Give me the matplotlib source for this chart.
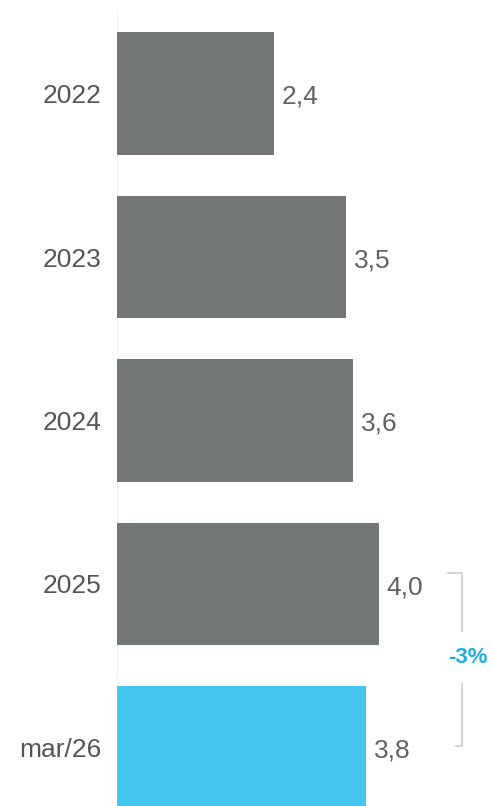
import matplotlib
matplotlib.use('Agg')

import matplotlib.pyplot as plt

# Datos
categorias = ['2022', '2023', '2024', '2025', 'mar/26']
valores = [2.4, 3.5, 3.6, 4.0, 3.8]
etiquetas = ['2,4', '3,5', '3,6', '4,0', '3,8']
variacion = '-3%'

gris = '#737877'
azul = '#45C6F0'
colores = [gris, gris, gris, gris, azul]

plt.rcParams['font.family'] = ['Liberation Sans', 'DejaVu Sans']

fig = plt.figure(figsize=(4.92, 8.06), dpi=100)
ax = fig.add_axes([117 / 492, 0, 375 / 492, 1])

pos = list(range(len(categorias)))
ax.barh(pos, valores, height=0.75, color=colores)

for p, v, txt in zip(pos, valores, etiquetas):
    ax.text(v + 0.12, p + 0.02, txt, va='center', ha='left', fontsize=19, color='#626262')

ax.set_xlim(0, 375 / 65.5)
ax.set_ylim(4.358, -0.572)

# eje vertical tenue
ax.axvline(0, ymin=0, ymax=0.985, color='#eeeeee', lw=1.2, zorder=0)

# corchete de variación
xb = 5.27
y_top = 3 - 0.07
y_bot = 4 - 0.01
ax.plot([xb - 0.22, xb, xb], [y_top, y_top, 3.29], color='#d0d0d0', lw=1.3, clip_on=False)
ax.plot([xb, xb, xb - 0.09], [3.61, y_bot, y_bot], color='#d0d0d0', lw=1.3, clip_on=False)
ax.text(xb + 0.08, 3.45, variacion, ha='center', va='center', fontsize=16,
        fontweight='bold', color='#1DAEE3')

ax.set_yticks(pos)
ax.set_yticklabels(categorias, fontsize=19, color='#555555')
ax.tick_params(axis='y', length=0, pad=11)
ax.set_xticks([])
for s in ax.spines.values():
    s.set_visible(False)

fig.savefig('out.png', dpi=100)
